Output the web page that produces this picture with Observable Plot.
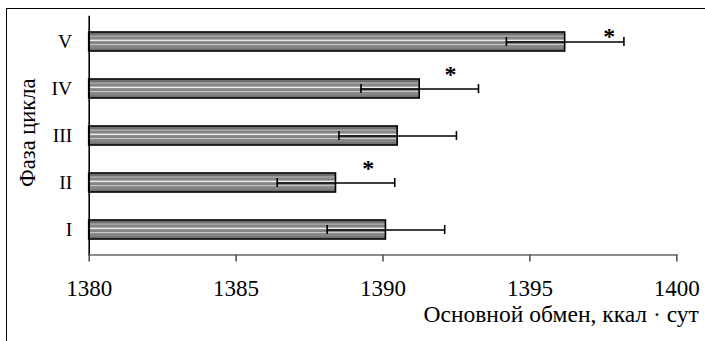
<!DOCTYPE html>
<html><head><meta charset="utf-8">
<script src="https://cdn.jsdelivr.net/npm/d3@7"></script>
<script src="https://cdn.jsdelivr.net/npm/@observablehq/plot@0.6"></script>
<style>
html,body{margin:0;padding:0;background:#fff;}
#wrap{position:relative;width:705px;height:341px;overflow:hidden;}
#box{position:absolute;left:6px;top:8px;width:740px;height:380px;border-left:1.5px solid #000;border-top:1.5px solid #000;}
#chart{position:absolute;left:0;top:0;}
</style></head><body>
<div id="wrap"><div id="box"></div><div id="chart"></div></div>
<script>
const phases = ["V", "IV", "III", "II", "I"];
const means = [1396.2, 1391.25, 1390.5, 1388.4, 1390.1];
const errors = [2.0, 2.0, 2.0, 2.0, 2.0];
const starPhases = ["V", "IV", "II"];
const starX = [1397.7, 1392.3, 1389.5];
const xTicks = [1380, 1385, 1390, 1395, 1400];
const xLabel = "Основной обмен, ккал · сут";
const yLabel = "Фаза цикла";

const rows = phases.map((p, i) => ({phase: p, mean: means[i], lo: means[i] - errors[i], hi: means[i] + errors[i]}));
const stars = starPhases.map((p, i) => ({phase: p, x: starX[i]}));

const BW = 19.08;
// stripes: [offset from top, thickness, colour]
const stripes = [[1, 2.5, "#6f6f6f"], [3.5, 1.2, "#b4b4b4"], [7.6, 1.6, "#ececec"], [12, 1.2, "#c6c6c6"], [16.5, 1.6, "#707070"]];
const font = "'Liberation Serif', 'Times New Roman', serif";

const marks = [
  Plot.barX(rows, {x1: 1380, x2: "mean", y: "phase", fill: "#858585"}),
  ...stripes.map(([t, h, c]) => Plot.barX(rows, {x1: 1380, x2: "mean", y: "phase", fill: c,
      insetTop: t, insetBottom: BW - t - h, insetLeft: 0.5, insetRight: 0.5})),
  Plot.barX(rows, {x1: 1380, x2: "mean", y: "phase", fill: "none", stroke: "#000", strokeWidth: 1.6}),
  Plot.ruleY(rows, {x1: "lo", x2: "hi", y: "phase", stroke: "#000", strokeWidth: 1.4}),
  Plot.tickX(rows, {x: "lo", y: "phase", stroke: "#000", strokeWidth: 1.6, insetTop: 5, insetBottom: 5}),
  Plot.tickX(rows, {x: "hi", y: "phase", stroke: "#000", strokeWidth: 1.6, insetTop: 5, insetBottom: 5}),
  Plot.text(stars.filter(d => d.phase === "V"), {x: "x", y: "phase", text: () => "*", fontSize: 24, fontWeight: "bold", fontFamily: font, dy: -6, lineAnchor: "middle"}),
  Plot.text(stars.filter(d => d.phase !== "V"), {x: "x", y: "phase", text: () => "*", fontSize: 24, fontWeight: "bold", fontFamily: font, dy: -14.5, lineAnchor: "middle"}),
  Plot.frame({anchor: "left", stroke: "#000", strokeWidth: 1.6}),
  Plot.frame({anchor: "bottom", stroke: "#666", strokeWidth: 1.6}),
  Plot.axisX({ticks: xTicks, tickFormat: d => String(d), tickSize: 7, tickPadding: 18, fontSize: 23, fontFamily: font, label: null, stroke: "#555", strokeWidth: 1.6}),
  Plot.axisY({tickSize: 0, tickPadding: 17, fontSize: 19.5, fontFamily: font, label: null}),
  Plot.text([xLabel], {frameAnchor: "bottom-right", textAnchor: "end", dx: 22, dy: 59.5, fontSize: 23.5, fontFamily: font, lineAnchor: "middle"}),
  Plot.text([yLabel], {frameAnchor: "left", textAnchor: "middle", rotate: -90, dx: -61, dy: -3, fontSize: 22.5, fontFamily: font, lineAnchor: "middle"})
];

const chart = Plot.plot({
  width: 705,
  height: 341,
  marginLeft: 88.7,
  marginRight: 28.7,
  marginTop: 16,
  marginBottom: 86.5,
  style: {background: "transparent", color: "#000", fontFamily: font},
  x: {domain: [1380, 1400]},
  y: {type: "band", domain: phases, paddingInner: 0.6, paddingOuter: 0.3},
  marks
});
document.getElementById("chart").appendChild(chart);
</script>
</body></html>
